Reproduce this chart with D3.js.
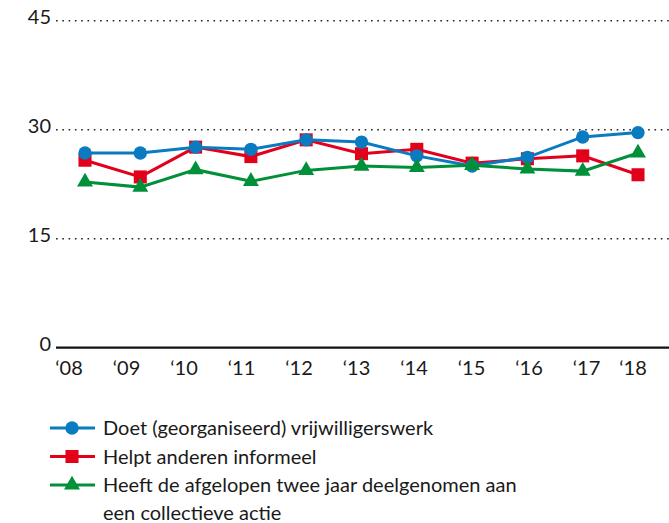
<!DOCTYPE html>
<html>
<head>
<meta charset="utf-8">
<script src="https://cdn.jsdelivr.net/npm/d3@7"></script>
<style>
  body { margin: 0; background: #fff; }
  svg text { font-family: Lato, "Noto Sans", sans-serif; fill: #1a1a1a; }
</style>
</head>
<body>
<div id="chart"></div>
<script>
var width = 669;
var height = 523;

// data
var years = ["'08", "'09", "'10", "'11", "'12", "'13", "'14", "'15", "'16", "'17", "'18"];
var vrijwilligerswerk = [26.8, 26.8, 27.6, 27.3, 28.6, 28.3, 26.4, 25.0, 26.2, 29.0, 29.6];
var informeel = [25.8, 23.5, 27.6, 26.3, 28.6, 26.7, 27.3, 25.4, 26.0, 26.4, 23.8];
var collectief = [22.8, 22.1, 24.5, 22.9, 24.4, 25.0, 24.8, 25.1, 24.6, 24.3, 26.8];
var yTicks = [0, 15, 30, 45];
var legendLabels = [
  ["Doet (georganiseerd) vrijwilligerswerk"],
  ["Helpt anderen informeel"],
  ["Heeft de afgelopen twee jaar deelgenomen aan", "een collectieve actie"]
];

var blue = "#0a7bc1", red = "#e2001a", green = "#00903a";

var svg = d3.select("#chart").append("svg")
  .attr("width", width)
  .attr("height", height);

var xScale = d3.scalePoint()
  .domain(years)
  .range([85, 638]);

// tick labels sit a bit left of the points
var labelScale = d3.scalePoint()
  .domain(years)
  .range([69, 644]);

var yScale = d3.scaleLinear()
  .domain([0, 45])
  .range([347.7, 20.7]);

// dotted gridlines
svg.selectAll(".grid")
  .data(yTicks.filter(function(d) { return d > 0; }))
  .enter().append("line")
    .attr("x1", 56)
    .attr("x2", width)
    .attr("y1", function(d) { return yScale(d); })
    .attr("y2", function(d) { return yScale(d); })
    .attr("stroke", "#222")
    .attr("stroke-width", 1.6)
    .attr("stroke-dasharray", "1.6 4.7");

// base line
svg.append("line")
  .attr("x1", 56)
  .attr("x2", width)
  .attr("y1", yScale(0))
  .attr("y2", yScale(0))
  .attr("stroke", "#111")
  .attr("stroke-width", 2.2);

svg.selectAll(".ylab")
  .data(yTicks)
  .enter().append("text")
    .attr("x", 51)
    .attr("y", function(d) { return yScale(d) + 3; })
    .attr("text-anchor", "end")
    .style("font-size", "20px")
    .text(function(d) { return d; });

svg.selectAll(".xlab")
  .data(years)
  .enter().append("text")
    .attr("x", function(d) { return Math.min(labelScale(d), 633); })
    .attr("y", 375)
    .attr("text-anchor", "middle")
    .style("font-size", "20px")
    .text(function(d) { return d.replace("'", "\u2018"); });

var series = [
  { name: "informeel", values: informeel, color: red, shape: d3.symbolSquare, size: 170 },
  { name: "vrijwilligerswerk", values: vrijwilligerswerk, color: blue, shape: d3.symbolCircle, size: 140 },
  { name: "collectief", values: collectief, color: green, shape: d3.symbolTriangle, size: 110 }
];

var line = d3.line()
  .x(function(d, i) { return xScale(years[i]); })
  .y(function(d) { return yScale(d); });

series.forEach(function(s) {
  svg.append("path")
    .datum(s.values)
    .attr("fill", "none")
    .attr("stroke", s.color)
    .attr("stroke-width", 3)
    .attr("d", line);

  svg.selectAll(".pt-" + s.name)
    .data(s.values)
    .enter().append("path")
      .attr("transform", function(d, i) { return "translate(" + xScale(years[i]) + "," + yScale(d) + ")"; })
      .attr("d", d3.symbol().type(s.shape).size(s.size))
      .attr("fill", s.color);
});

// legend
var legendSeries = [series[1], series[0], series[2]];
var legendY = [428, 456.5, 485];

legendSeries.forEach(function(s, i) {
  var g = svg.append("g").attr("transform", "translate(0," + legendY[i] + ")");
  g.append("line")
    .attr("x1", 50).attr("x2", 95)
    .attr("stroke", s.color)
    .attr("stroke-width", 3);
  g.append("path")
    .attr("transform", "translate(72,0)")
    .attr("d", d3.symbol().type(s.shape).size(s.size))
    .attr("fill", s.color);
  var t = g.append("text")
    .attr("x", 103)
    .attr("y", 7)
    .style("font-size", "20px");
  legendLabels[i].forEach(function(l, j) {
    t.append("tspan")
      .attr("x", 103)
      .attr("dy", j === 0 ? 0 : 28.4)
      .text(l);
  });
});
</script>
</body>
</html>
